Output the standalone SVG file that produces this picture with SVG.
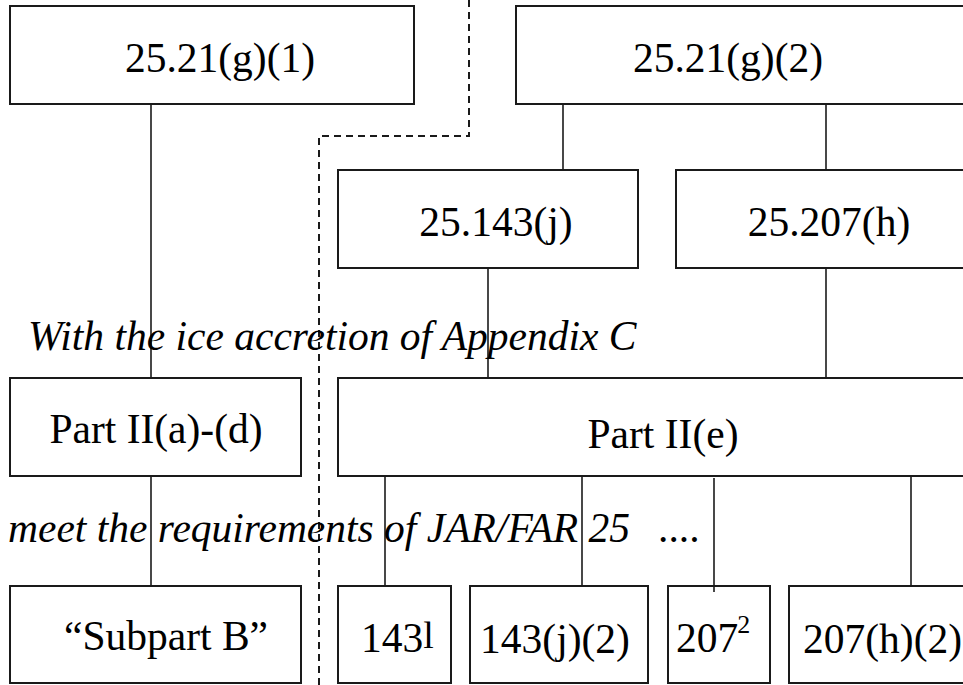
<svg xmlns="http://www.w3.org/2000/svg" width="963" height="685" viewBox="0 0 963 685">
<style>
.box{fill:#fff;stroke:#1a1a1a;stroke-width:2}
.con{stroke:#1a1a1a;stroke-width:1.6;fill:none}
.dash{stroke:#1a1a1a;stroke-width:2;fill:none;stroke-dasharray:7 5}
.t{font-family:"Liberation Serif","Times New Roman",serif;font-size:41.5px;fill:#000}
.m{text-anchor:middle}
.i{font-style:italic}
</style>
<rect width="963" height="685" fill="#fff"/>
<g id="nodes">
<g id="n-g1"><rect class="box" x="10" y="6" width="404" height="98"/><text class="t m" x="220" y="72">25.21(g)(1)</text></g>
<g id="n-g2"><rect class="box" x="516" y="6" width="480" height="98"/><text class="t m" x="728" y="72">25.21(g)(2)</text></g>
<g id="n-143j"><rect class="box" x="338" y="170" width="300" height="98"/><text class="t m" x="496" y="236">25.143(j)</text></g>
<g id="n-207h"><rect class="box" x="676" y="170" width="320" height="98"/><text class="t m" x="829" y="236">25.207(h)</text></g>
<g id="n-partad"><rect class="box" x="10" y="378" width="291" height="98"/><text class="t m" x="156" y="443">Part II(a)-(d)</text></g>
<g id="n-parte"><rect class="box" x="338" y="378" width="660" height="98"/><text class="t m" x="663" y="448">Part II(e)</text></g>
<g id="n-subb"><rect class="box" x="10" y="586" width="291" height="97"/><text class="t m" x="166" y="650">“Subpart B”</text></g>
<g id="n-143"><rect class="box" x="338" y="586" width="113" height="97"/><text class="t" x="361" y="652">143<tspan font-size="38" dy="-4">l</tspan></text></g>
<g id="n-143j2"><rect class="box" x="470" y="586" width="178" height="97"/><text class="t m" x="555" y="653">143(j)(2)</text></g>
<g id="n-207"><rect class="box" x="668" y="586" width="102" height="97"/><text class="t" x="676" y="652">207<tspan font-size="26" dx="-1" dy="-19">2</tspan></text></g>
<g id="n-207h2"><rect class="box" x="789" y="586" width="200" height="97"/><text class="t" x="803" y="653">207(h)(2)</text></g>
</g>
<g id="connectors">
<line class="con" x1="151" y1="104" x2="151" y2="378"/>
<line class="con" x1="151" y1="476" x2="151" y2="586"/>
<line class="con" x1="563" y1="104" x2="563" y2="170"/>
<line class="con" x1="826" y1="104" x2="826" y2="170"/>
<line class="con" x1="488" y1="268" x2="488" y2="378"/>
<line class="con" x1="826" y1="268" x2="826" y2="378"/>
<line class="con" x1="385" y1="476" x2="385" y2="586"/>
<line class="con" x1="582" y1="476" x2="582" y2="586"/>
<line class="con" x1="714" y1="478" x2="714" y2="592"/>
<line class="con" x1="911" y1="476" x2="911" y2="586"/>
<path class="dash" d="M469 0 V136 H319 V685"/>
</g>
<g id="labels">
<text class="t i" x="28" y="350">With the ice accretion of Appendix C</text>
<text class="t i" x="8" y="542">meet the requirements of JAR/FAR 25<tspan x="658" font-style="normal">....</tspan></text>
</g>
</svg>
